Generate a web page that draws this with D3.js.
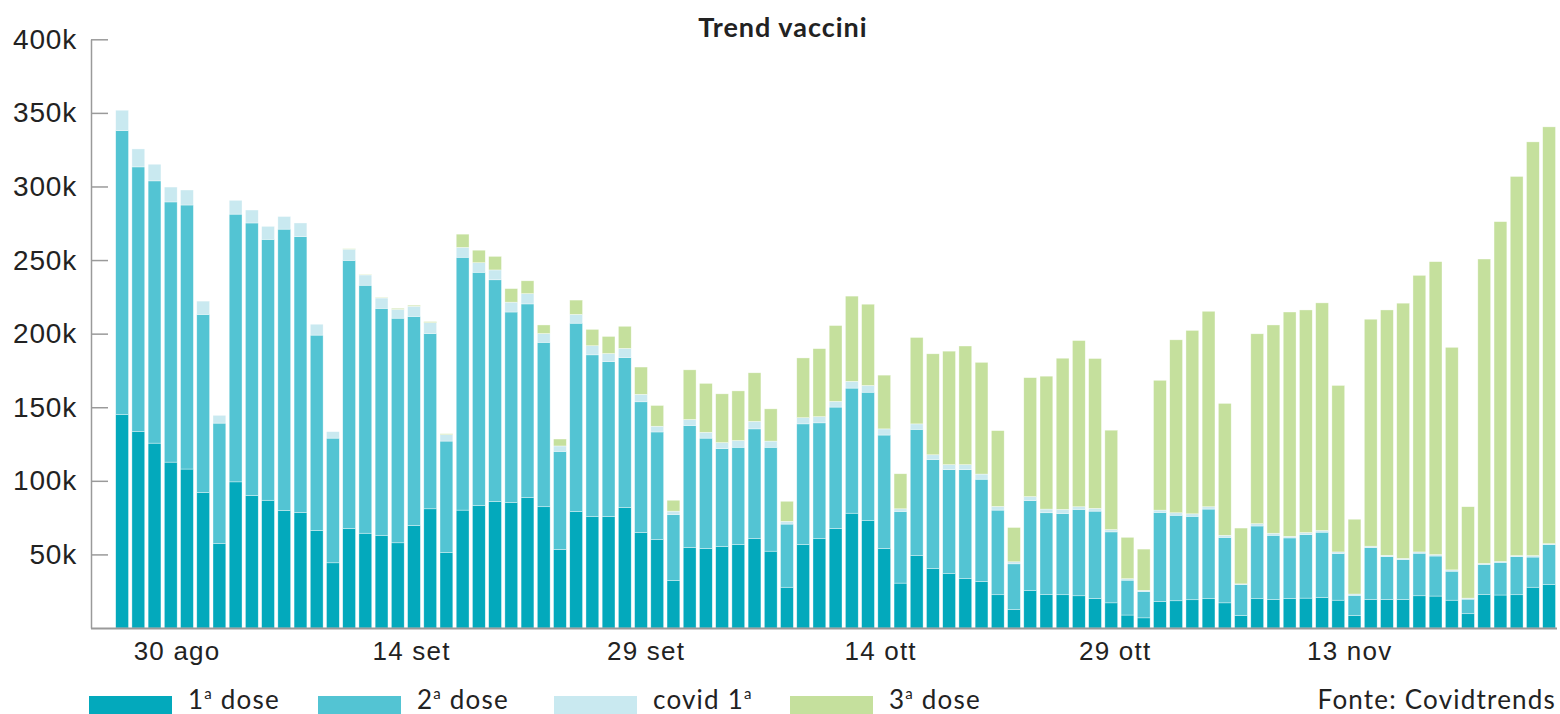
<!DOCTYPE html>
<html>
<head>
<meta charset="utf-8">
<script src="https://cdn.jsdelivr.net/npm/d3@7"></script>
<style>
  body { margin: 0; background: #fff; }
  svg { display: block; font-family: Lato, "Noto Sans", sans-serif; }
</style>
</head>
<body>
<svg id="chart" width="1560" height="714"></svg>
<script>
// ===== Data (thousands of doses per day, 30 ago -> 26 nov) =====
const dose1 = [145.2,133.4,125.6,112.7,108.0,92.1,57.3,99.3,90.0,86.8,79.9,78.5,66.3,44.3,67.6,
  64.4,63.0,57.9,69.7,81.0,51.2,80.1,83.3,85.9,85.4,88.6,82.4,53.3,79.2,75.9,
  75.7,82.0,64.9,60.0,32.3,54.7,54.0,55.4,56.8,60.7,52.2,27.7,56.8,60.7,67.6,
  78.0,72.9,54.0,30.5,49.4,40.4,36.9,33.5,31.6,22.6,12.5,25.4,22.9,22.6,
  21.9,20.1,17.1,8.8,6.9,18.0,18.5,19.2,19.9,17.1,8.5,19.9,19.4,20.1,20.3,
  20.8,18.9,8.5,19.4,19.4,19.4,21.9,21.7,18.9,9.7,22.9,22.4,22.6,27.7,29.5];

const dose2 = [192.8,179.9,178.2,176.8,179.4,121.0,81.9,181.9,185.2,177.3,191.1,187.4,132.7,84.7,182.2,
  168.5,154.2,152.6,142.0,119.1,75.8,171.8,158.4,150.7,129.3,131.6,111.7,66.7,127.9,109.7,
  105.3,101.8,88.8,73.2,44.8,82.9,75.0,66.5,66.0,74.6,70.6,42.9,81.9,78.7,82.5,
  85.0,87.3,77.1,48.7,85.6,74.1,70.7,74.1,69.5,57.5,31.1,61.2,55.4,55.2,
  58.7,59.3,48.2,23.7,17.8,60.5,58.1,56.7,60.9,44.5,21.0,49.4,43.6,41.1,43.2,
  44.3,31.7,13.7,35.3,29.1,27.0,28.9,27.2,19.7,9.9,20.3,22.2,25.9,20.5,27.1];

const covid1 = [13.8,12.2,11.3,10.1,10.2,9.0,5.3,9.4,8.8,8.8,8.6,9.3,7.4,4.4,7.6,
  7.0,7.0,6.0,6.9,7.4,4.4,6.7,6.5,6.7,6.7,7.0,6.0,3.7,6.0,6.2,
  5.5,6.2,5.1,3.9,2.3,4.1,4.0,4.1,4.6,5.1,4.2,1.9,4.2,4.2,3.9,
  4.6,4.6,4.2,1.8,3.7,3.2,3.4,3.4,3.5,2.5,1.4,2.7,2.5,2.8,
  1.8,1.9,1.6,1.0,0.9,1.6,1.7,1.7,1.6,1.4,0.5,1.6,1.4,1.1,1.4,
  1.2,1.1,0.9,0.9,0.9,0.9,0.9,1.0,0.9,0.7,0.7,0.6,0.7,1.0,0.7];

const dose3 = [0,0,0,0,0,0,0,0,0,0,0,0,0,0,0.3,
  0.4,0.4,0.7,0.7,0.7,0.6,9.0,8.5,9.2,9.2,8.7,5.8,4.7,9.7,11.1,
  11.6,15.0,18.5,14.1,7.4,33.7,33.2,33.1,33.7,33.0,21.9,13.6,40.6,46.2,51.5,
  57.9,55.2,36.5,23.8,58.7,68.6,77.1,80.6,75.9,51.5,23.3,80.8,90.3,102.7,
  112.9,101.8,67.5,28.1,28.0,88.2,117.5,124.6,132.8,89.6,37.9,129.0,141.5,152.4,151.2,
  154.6,113.1,50.8,154.2,166.7,173.4,187.9,199.0,151.2,62.1,206.8,230.9,257.6,281.1,283.2];

const keys = ["dose1", "dose2", "covid1", "dose3"];
const legendLabels = [["1", "a", " dose"], ["2", "a", " dose"], ["covid 1", "a", ""], ["3", "a", " dose"]];
const colors = ["#03a9bc", "#53c4d3", "#c9e9f0", "#c5e09d"];

const tickDates = [new Date(2021, 7, 30), new Date(2021, 8, 14), new Date(2021, 8, 29),
  new Date(2021, 9, 14), new Date(2021, 9, 29), new Date(2021, 10, 13)];
const tickLabels = ["30 ago", "14 set", "29 set", "14 ott", "29 ott", "13 nov"];
const yTicks = [50, 100, 150, 200, 250, 300, 350, 400];

const days = d3.timeDay.range(new Date(2021, 7, 30), new Date(2021, 10, 27));
const rows = days.map((d, i) => ({
  date: d, dose1: dose1[i], dose2: dose2[i], covid1: covid1[i], dose3: dose3[i]
}));

// ===== Layout =====
const svg = d3.select("#chart");
const y0 = 628, yTop = 39.3;

const x = d3.scaleBand()
  .domain(days.map(d => +d))
  .range([115.7, 1555.5])
  .paddingInner(0.21)
  .paddingOuter(0);

// date labels sit on their own time scale (slightly narrower than the bars)
const xLab = d3.scaleTime()
  .domain([days[0], days[days.length - 1]])
  .range([176.5, 1552.5]);

const y = d3.scaleLinear().domain([0, 400]).range([y0, yTop]);
const color = d3.scaleOrdinal().domain(keys).range(colors);

// ===== Bars =====
const series = d3.stack().keys(keys)(rows);

svg.append("g")
  .selectAll("g")
  .data(series)
  .join("g")
  .attr("fill", d => color(d.key))
  .selectAll("rect")
  .data(d => d)
  .join("rect")
  .attr("x", d => x(+d.data.date))
  .attr("width", x.bandwidth())
  .attr("y", d => y(d[1]))
  .attr("height", d => Math.max(0, y(d[0]) - y(d[1])))
  .attr("stroke", "#fff")
  .attr("stroke-width", 0.6)
  .attr("stroke-opacity", 0.6);

// ===== Axes =====
const yAxis = svg.append("g")
  .attr("transform", "translate(91,0)")
  .call(d3.axisLeft(y)
    .tickValues(yTicks)
    .tickFormat(d => d + "k")
    .tickSizeInner(-17)
    .tickSizeOuter(0)
    .tickPadding(14));
yAxis.select(".domain").attr("stroke", "#9a9a9a").attr("stroke-width", 1.5);
yAxis.selectAll(".tick line").attr("stroke", "#9a9a9a").attr("stroke-width", 1.5);
yAxis.selectAll(".tick text")
  .attr("fill", "#222")
  .style("font-size", "28px")
  .style("letter-spacing", "0.8px");

svg.append("line")
  .attr("x1", 91).attr("x2", 1557)
  .attr("y1", y0 + 0.5).attr("y2", y0 + 0.5)
  .attr("stroke", "#9a9a9a")
  .attr("stroke-width", 2);

const xAxis = svg.append("g")
  .attr("transform", `translate(0,${y0})`)
  .call(d3.axisBottom(xLab)
    .tickValues(tickDates)
    .tickFormat((d, i) => tickLabels[i])
    .tickSize(0)
    .tickPadding(14));
xAxis.select(".domain").remove();
xAxis.selectAll(".tick text")
  .attr("fill", "#222")
  .style("font-size", "26px")
  .style("letter-spacing", "1.2px");

// ===== Title =====
svg.append("text")
  .attr("x", 783)
  .attr("y", 37)
  .attr("text-anchor", "middle")
  .attr("fill", "#222")
  .style("font-size", "27px")
  .style("font-weight", "bold")
  .style("letter-spacing", "1px")
  .text("Trend vaccini");

// ===== Legend =====
const legendX = [89, 318, 554, 790];
const legend = svg.append("g");
keys.forEach((k, i) => {
  legend.append("rect")
    .attr("x", legendX[i])
    .attr("y", 696)
    .attr("width", 83)
    .attr("height", 20)
    .attr("fill", color(k));
  const t = legend.append("text")
    .attr("x", legendX[i] + 99)
    .attr("y", 709)
    .attr("fill", "#222")
    .style("font-size", "26px")
    .style("letter-spacing", "1.2px");
  const parts = legendLabels[i];
  t.append("tspan").text(parts[0]);
  t.append("tspan").attr("dy", -10).style("font-size", "15px").text(parts[1]);
  if (parts[2]) t.append("tspan").attr("dy", 10).text(parts[2]);
});

svg.append("text")
  .attr("x", 1556)
  .attr("y", 709)
  .attr("text-anchor", "end")
  .attr("fill", "#222")
  .style("font-size", "26px")
  .style("letter-spacing", "1.2px")
  .text("Fonte: Covidtrends");
</script>
</body>
</html>
